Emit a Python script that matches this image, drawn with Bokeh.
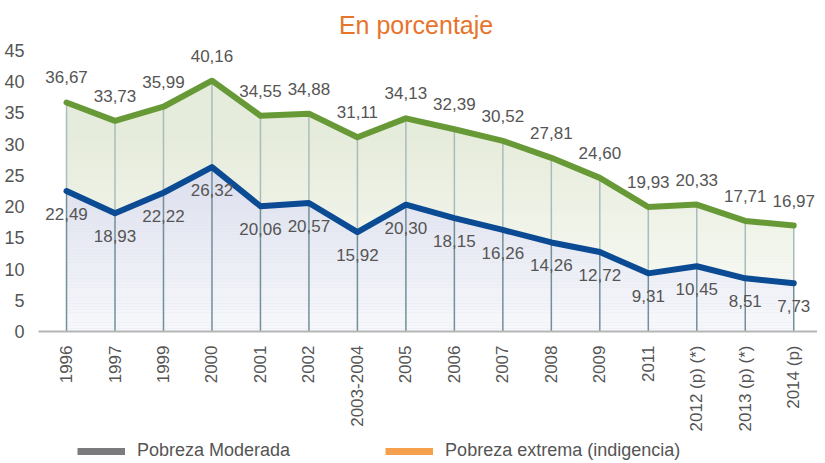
import numpy as np
from bokeh.plotting import figure
from bokeh.layouts import column
from bokeh.models import Range1d, FixedTicker, Label, Legend, LegendItem, ColumnDataSource
from bokeh.core.properties import value
from bokeh.embed import file_html
from bokeh.resources import INLINE

categories = ["1996", "1997", "1999", "2000", "2001", "2002", "2003-2004", "2005", "2006",
              "2007", "2008", "2009", "2011", "2012 (p) (*)", "2013 (p) (*)", "2014 (p)"]
moderada = [36.67, 33.73, 35.99, 40.16, 34.55, 34.88, 31.11, 34.13, 32.39, 30.52, 27.81,
            24.60, 19.93, 20.33, 17.71, 16.97]
extrema = [22.49, 18.93, 22.22, 26.32, 20.06, 20.57, 15.92, 20.30, 18.15, 16.26, 14.26,
           12.72, 9.31, 10.45, 8.51, 7.73]
y_ticks = [0, 5, 10, 15, 20, 25, 30, 35, 40, 45]
title_text = "En porcentaje"
legend_labels = ["Pobreza Moderada", "Pobreza extrema (indigencia)"]

FONT = "Liberation Sans"
TXT = "#555555"

idx = list(range(len(categories)))
fmt = lambda v: f"{v:.2f}".replace(".", ",")
src = ColumnDataSource(dict(
    x=idx, mod=moderada, ext=extrema, zero=[0] * len(idx),
    mod_lab=[fmt(v) for v in moderada], ext_lab=[fmt(v) for v in extrema],
))

x0, x1 = -0.578, 15.49
p = figure(width=817, height=434, output_backend="svg", toolbar_location=None,
           x_range=Range1d(x0, x1), y_range=Range1d(0, 53.0),
           min_border_left=38, min_border_right=0, min_border_top=0, min_border_bottom=0)
p.outline_line_color = None
p.background_fill_color = "white"
p.border_fill_color = "white"
p.grid.visible = False

# areas
p.varea(x="x", y1="ext", y2="mod", source=src, fill_color="#e6ecdb")
p.varea(x="x", y1="zero", y2="ext", source=src, fill_color="#d6d9ea")

# white gradient overlay (fades towards the bottom)
edges = np.linspace(0, 32, 65)
bottoms = edges[:-1]
tops = edges[1:]
alphas = np.clip(0.82 * (1 - (bottoms + tops) / 2 / 32), 0, 1)
p.quad(left=x0, right=x1, bottom=bottoms, top=tops, fill_color="white",
       fill_alpha=alphas, line_color=None)

# vertical drop lines
p.segment(x0="x", y0="ext", x1="x", y1="mod", source=src, line_color="#a8bcbc", line_width=1.5)
p.segment(x0="x", y0="zero", x1="x", y1="ext", source=src, line_color="#71909a", line_width=1.5)

# series lines
p.line(x="x", y="mod", source=src, line_color="#679a36", line_width=6, line_join="round", line_cap="round")
p.line(x="x", y="ext", source=src, line_color="#0b4b94", line_width=6, line_join="round", line_cap="round")

# value labels
p.text(x="x", y="mod", text="mod_lab", source=src, text_font=value(FONT), text_font_size="17px",
       text_color=TXT, text_align="center", text_baseline="middle", y_offset=-25)
p.text(x="x", y="ext", text="ext_lab", source=src, text_font=value(FONT), text_font_size="17px",
       text_color=TXT, text_align="center", text_baseline="middle", y_offset=23)

# title
p.add_layout(Label(x=7.21, y=49.0, text=title_text, text_font=FONT, text_font_size="25px",
                   text_color="#e8742c", text_align="center", text_baseline="middle"))

# axes
xa = p.xaxis[0]
xa.ticker = FixedTicker(ticks=idx)
xa.major_label_overrides = {i: c for i, c in zip(idx, categories)}
xa.major_label_orientation = np.pi / 2
xa.major_label_text_font = FONT
xa.major_label_text_font_size = "17px"
xa.major_label_text_color = TXT
xa.major_label_standoff = 8
xa.axis_line_color = "#b5b5b5"
xa.axis_line_width = 2
xa.major_tick_line_color = None
xa.minor_tick_line_color = None

ya = p.yaxis[0]
ya.ticker = FixedTicker(ticks=y_ticks)
ya.major_label_text_font = FONT
ya.major_label_text_font_size = "18px"
ya.major_label_text_color = TXT
ya.major_label_standoff = 8
ya.axis_line_color = None
ya.major_tick_line_color = None
ya.minor_tick_line_color = None

# legend in its own strip below the chart
lf = figure(width=817, height=27, output_backend="svg", toolbar_location=None,
            x_range=Range1d(0, 1), y_range=Range1d(0, 1),
            x_axis_location=None, y_axis_location=None,
            min_border_left=0, min_border_right=0, min_border_top=0, min_border_bottom=0)
lf.grid.visible = False
lf.outline_line_color = None
r1 = lf.line(x=[np.nan], y=[np.nan], line_color="#7b7b7d", line_width=7)
r2 = lf.line(x=[np.nan], y=[np.nan], line_color="#f5a04c", line_width=7)
legend = Legend(items=[LegendItem(label=legend_labels[0], renderers=[r1]),
                       LegendItem(label=legend_labels[1], renderers=[r2])],
                orientation="horizontal", location=(39, 0),
                label_text_font=FONT, label_text_font_size="18px", label_text_color=TXT,
                glyph_width=48, glyph_height=16, label_standoff=12, spacing=95,
                padding=0, margin=0, border_line_color=None, background_fill_alpha=0)
lf.add_layout(legend, "center")

layout = column(p, lf, spacing=0)
open("out.html", "w").write(file_html(layout, INLINE))
